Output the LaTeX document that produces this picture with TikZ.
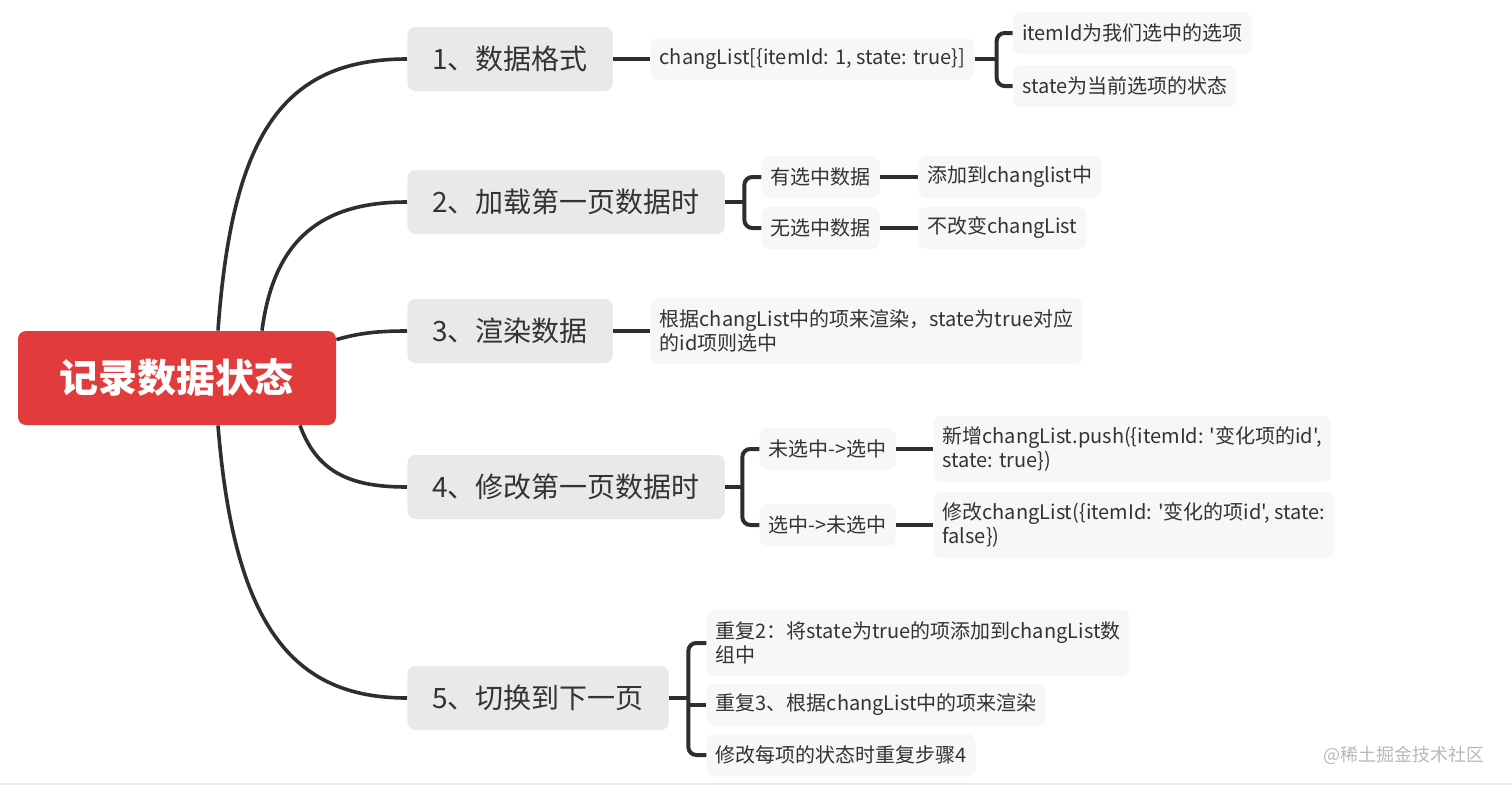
\documentclass[tikz,border=0pt]{standalone}
\usepackage{fontspec}
\setmainfont{Noto Sans CJK SC}[Ligatures=TeXOff]
\usepackage{xcolor}
\usetikzlibrary{calc, positioning}
\definecolor{rootred}{HTML}{E23B3B}
\definecolor{topicgray}{HTML}{E9E9E9}
\definecolor{leafgray}{HTML}{F8F6F6}
\definecolor{linedark}{HTML}{2E2E2E}
\definecolor{textdark}{HTML}{333333}

\begin{document}
\begin{tikzpicture}[x=0.5pt, y=-0.5pt,
	rootbox/.style={fill=rootred, rounded corners=4pt, text=white, font=\fontsize{19.5}{23}\selectfont\bfseries, minimum width=159pt, minimum height=47pt},
	topicbox/.style={fill=topicgray, rounded corners=4pt, text=textdark, font=\fontsize{14}{16}\selectfont, inner xsep=12.5pt, minimum height=32pt, anchor=west},
	leafbox/.style={fill=leafgray, rounded corners=4pt, text=textdark, font=\fontsize{10}{12}\selectfont, inner xsep=4.5pt, minimum height=21pt, anchor=west, align=left},
	link/.style={draw=linedark, line width=2pt},
	curvelink/.style={draw=linedark, line width=1.8pt},
	bracelink/.style={draw=linedark, line width=2pt, rounded corners=4pt}]
	\useasboundingbox (0,0) rectangle (1512,788);
	% root and main topics
	\node[rootbox] (root) at (177,378) {记录数据状态};
	\node[topicbox] (t1) at (407,59) {1、数据格式};
	\node[topicbox] (t2) at (407,202) {2、加载第一页数据时};
	\node[topicbox] (t3) at (407,331) {3、渲染数据};
	\node[topicbox] (t4) at (407,487) {4、修改第一页数据时};
	\node[topicbox] (t5) at (407,698) {5、切换到下一页};
	% curves from the root
	\coordinate (r1) at ($(root.north)+(41,0)$);
	\coordinate (r2) at ($(root.north)+(85,0)$);
	\coordinate (r3) at ($(root.north east)+(0,9)$);
	\coordinate (r4) at ($(root.south)+(123,0)$);
	\coordinate (r5) at ($(root.south)+(41,0)$);
	\draw[curvelink] (r1) .. controls ($(r1)+(14,-195)$) and ($(t1.west)+(-125,0)$) .. (t1.west);
	\draw[curvelink] (r2) .. controls ($(r2)+(12,-92)$) and ($(t2.west)+(-85,0)$) .. (t2.west);
	\draw[curvelink] (r3) .. controls ($(r3)+(24,-7)$) and ($(t3.west)+(-27,0)$) .. (t3.west);
	\draw[curvelink] (r4) .. controls ($(r4)+(18,50)$) and ($(t4.west)+(-52,0)$) .. (t4.west);
	\draw[curvelink] (r5) .. controls ($(r5)+(16,200)$) and ($(t5.west)+(-115,0)$) .. (t5.west);
	% 1
	\node[leafbox] (c1) at ($(t1.east)+(37,0)$) {changList[\{itemId: 1, state: true\}]};
	\node[leafbox] (c11) at ($(c1.east)+(38,-26)$) {itemId为我们选中的选项};
	\node[leafbox] (c12) at ($(c1.east)+(38,27)$) {state为当前选项的状态};
	\coordinate (b1) at ($(c11.west)+(-16,0)$);
	\draw[link] (t1.east) -- (c1.west);
	\draw[link] (c1.east) -- (c1.east -| b1);
	\draw[bracelink] (c11.west) -| (b1 |- c12.west) -- (c12.west);
	% 2
	\node[leafbox] (s21) at ($(t2.east)+(36,-25)$) {有选中数据};
	\node[leafbox] (s22) at ($(t2.east)+(36,26)$) {无选中数据};
	\node[leafbox] (s21a) at ($(s21.east)+(38,0)$) {添加到changlist中};
	\node[leafbox] (s22a) at ($(s22.east)+(38,0)$) {不改变changList};
	\coordinate (b2) at ($(s21.west)+(-17,0)$);
	\draw[link] (t2.east) -- (t2.east -| b2);
	\draw[bracelink] (s21.west) -| (b2 |- s22.west) -- (s22.west);
	\draw[link] (s21.east) -- (s21a.west);
	\draw[link] (s22.east) -- (s22a.west);
	% 3
	\node[leafbox, minimum height=33pt] (r3a) at ($(t3.east)+(37,0)$) {根据changList中的项来渲染，state为true对应\\的id项则选中};
	\draw[link] (t3.east) -- (r3a.west);
	% 4
	\node[leafbox] (s41) at ($(t4.east)+(34,-38)$) {未选中->选中};
	\node[leafbox] (s42) at ($(t4.east)+(34,38)$) {选中->未选中};
	\node[leafbox, minimum height=33pt] (s41a) at ($(s41.east)+(37,0)$) {新增changList.push(\{itemId: '变化项的id',\\state: true\})};
	\node[leafbox, minimum height=33pt] (s42a) at ($(s42.east)+(37,0)$) {修改changList(\{itemId: '变化的项id', state:\\false\})};
	\coordinate (b4) at ($(s41.west)+(-17,0)$);
	\draw[link] (t4.east) -- (t4.east -| b4);
	\draw[bracelink] (s41.west) -| (b4 |- s42.west) -- (s42.west);
	\draw[link] (s41.east) -- (s41a.west);
	\draw[link] (s42.east) -- (s42a.west);
	% 5
	\node[leafbox, minimum height=33pt] (s51) at ($(t5.east)+(37,-55)$) {重复2：将state为true的项添加到changList数\\组中};
	\node[leafbox] (s52) at ($(t5.east)+(37,7)$) {重复3、根据changList中的项来渲染};
	\node[leafbox] (s53) at ($(t5.east)+(37,57)$) {修改每项的状态时重复步骤4};
	\coordinate (b5) at ($(s51.west)+(-18,0)$);
	\draw[link] (t5.east) -- (t5.east -| b5);
	\draw[bracelink] (s51.west) -| (b5 |- s53.west) -- (s53.west);
	\draw[link] (s52.west -| b5) -- (s52.west);
	% watermark and bottom rule
	\node[anchor=east, text=black!28, font=\fontsize{9}{11}\selectfont] (wm) at (1492,755) {@稀土掘金技术社区};
	\draw[black!8, line width=1pt] (0,784) -- (1512,784);
\end{tikzpicture}
\end{document}
